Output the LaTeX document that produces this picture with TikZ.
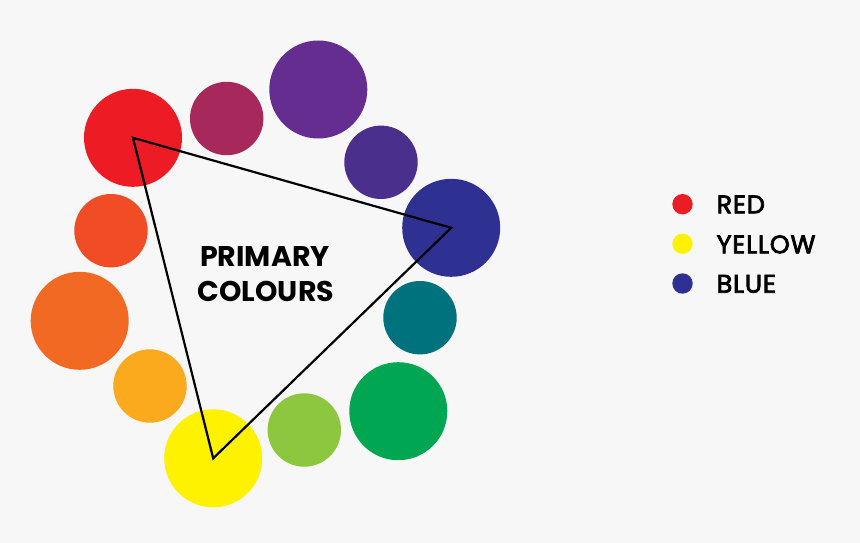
\documentclass[tikz,border=0pt]{standalone}
\usepackage{fontspec}
\newfontfamily\titlefont{Poppins}
\newfontfamily\legfont{Poppins}[FakeBold=3, LetterSpace=3]
\definecolor{bgc}{HTML}{F7F7F7}
\definecolor{cRed}{HTML}{ED1C24}
\definecolor{cRedViolet}{HTML}{A7295C}
\definecolor{cViolet}{HTML}{662D91}
\definecolor{cBlueViolet}{HTML}{4B2F8D}
\definecolor{cBlue}{HTML}{2E3192}
\definecolor{cTeal}{HTML}{00727E}
\definecolor{cGreen}{HTML}{00A651}
\definecolor{cYellowGreen}{HTML}{8DC63F}
\definecolor{cYellow}{HTML}{FFF200}
\definecolor{cYellowOrange}{HTML}{FBAA1E}
\definecolor{cOrange}{HTML}{F26924}
\definecolor{cRedOrange}{HTML}{F04C25}
\tikzset{
  bigdot/.style={circle, draw=none, fill=#1, minimum size=98pt, inner sep=0pt},
  smalldot/.style={circle, draw=none, fill=#1, minimum size=73.4pt, inner sep=0pt},
  legdot/.style={circle, draw=none, fill=#1, minimum size=20.4pt, inner sep=0pt},
  tri/.style={draw=black, line width=2.2pt, line join=miter},
  titletext/.style={anchor=base, inner sep=0pt, font=\titlefont\bfseries\fontsize{28.5}{34}\selectfont},
  legtext/.style={anchor=base west, inner sep=0pt, font=\legfont\fontsize{25.5}{28}\selectfont},
}
\begin{document}
\begin{tikzpicture}[x=1pt, y=-1pt]
\fill[bgc] (0,0) rectangle (860,543);
\useasboundingbox (0,0) rectangle (860,543);
% colour wheel
\node[bigdot=cRed] (red) at (133,137.8) {};
\node[smalldot=cRedViolet] (redviolet) at (226.7,118.5) {};
\node[bigdot=cViolet] (violet) at (318.3,89.5) {};
\node[smalldot=cBlueViolet] (blueviolet) at (381,162.3) {};
\node[bigdot=cBlue] (blue) at (451.2,227.8) {};
\node[smalldot=cTeal] (teal) at (420,317.7) {};
\node[bigdot=cGreen] (green) at (398.3,411.2) {};
\node[smalldot=cYellowGreen] (yellowgreen) at (304.3,430) {};
\node[bigdot=cYellow] (yellow) at (213.2,458.3) {};
\node[smalldot=cYellowOrange] (yelloworange) at (150,386) {};
\node[bigdot=cOrange] (orange) at (79.7,320.8) {};
\node[smalldot=cRedOrange] (redorange) at (111,230.7) {};
% triangle
\draw[tri] (red.center) -- (blue.center) -- (yellow.center) -- cycle;
% title
\node[titletext] (title1) at (265,266.7) {PRIMARY};
\node[titletext] (title2) at (266,301.7) {COLOURS};
% legend
\node[legdot=cRed] (lred) at (682.5,204.2) {};
\node[legdot=cYellow] (lyellow) at (682.5,243.7) {};
\node[legdot=cBlue] (lblue) at (682.5,283.5) {};
\node[legtext] (tred) at (716.5,213.3) {RED};
\node[legtext] (tyellow) at (716.5,253.3) {YELLOW};
\node[legtext] (tblue) at (716.5,292.7) {BLUE};
\end{tikzpicture}
\end{document}
